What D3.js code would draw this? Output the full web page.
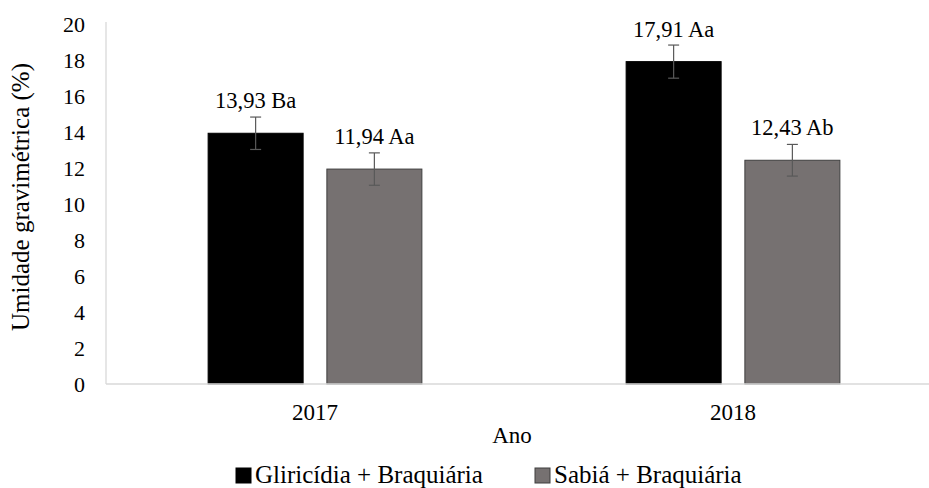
<!DOCTYPE html>
<html>
<head>
<meta charset="utf-8">
<script src="https://cdn.jsdelivr.net/npm/d3@7"></script>
<style>
  html, body { margin: 0; padding: 0; background: #fff; }
  svg { display: block; }
</style>
</head>
<body>
<svg id="chart" width="929" height="488"></svg>
<script>
// Anos avaliados e sistemas consorciados
const years = ["2017", "2018"];
const series = ["Gliricídia + Braquiária", "Sabiá + Braquiária"];
// Umidade gravimétrica média (%) por sistema, na ordem dos anos
const gliricidia = [13.93, 17.91];
const sabia = [11.94, 12.43];
// Erro (desvio) de cada média
const gliricidiaErr = [0.90, 0.92];
const sabiaErr = [0.90, 0.88];
// Letras de significância
const gliricidiaLetters = ["Ba", "Aa"];
const sabiaLetters = ["Aa", "Ab"];
const yTicks = [0, 2, 4, 6, 8, 10, 12, 14, 16, 18, 20];
const seriesColors = ["#000000", "#767171"];
const seriesStroke = ["#000000", "#3f3f3f"];

const FONT = '"Liberation Serif"';

const values = [gliricidia, sabia];
const errors = [gliricidiaErr, sabiaErr];
const letters = [gliricidiaLetters, sabiaLetters];

const rows = [];
years.forEach((yr, i) => {
  series.forEach((s, j) => {
    rows.push({ year: yr, series: s, si: j, value: values[j][i], err: errors[j][i], letter: letters[j][i] });
  });
});

const svg = d3.select("#chart");
const plotLeft = 106, plotRight = 942, plotTop = 24, plotBottom = 384;

const y = d3.scaleLinear().domain([0, 20]).range([plotBottom, plotTop]);
const x0 = d3.scaleBand().domain(years).range([plotLeft, plotRight]).padding(0);
const x1 = d3.scaleBand().domain(series).range([0, x0.bandwidth()]).paddingInner(0.2).paddingOuter(0.86);

const fmt = v => d3.format(".2f")(v).replace(".", ",");

// Eixo Y (linha clara, sem marcas)
svg.append("line")
  .attr("x1", plotLeft).attr("x2", plotLeft)
  .attr("y1", y(20) - 2).attr("y2", plotBottom)
  .attr("stroke", "#d9d9d9").attr("stroke-width", 1.3);

const yAxis = d3.axisLeft(y).tickValues(yTicks).tickSize(0).tickPadding(0).tickFormat(d3.format("d"));
const gy = svg.append("g").attr("transform", `translate(85,0)`).call(yAxis);
gy.select(".domain").remove();
gy.selectAll("text")
  .style("font-family", FONT)
  .style("font-size", "22px").attr("fill", "#000").attr("dy", "0.33em");

// Barras
svg.append("g").selectAll("rect").data(rows).join("rect")
  .attr("x", d => x0(d.year) + x1(d.series))
  .attr("y", d => y(d.value))
  .attr("width", x1.bandwidth())
  .attr("height", d => y(0) - y(d.value))
  .attr("fill", d => seriesColors[d.si])
  .attr("stroke", d => seriesStroke[d.si])
  .attr("stroke-width", 1);

// Eixo X
svg.append("line")
  .attr("x1", plotLeft).attr("x2", 929)
  .attr("y1", plotBottom).attr("y2", plotBottom)
  .attr("stroke", "#d9d9d9").attr("stroke-width", 1.3);

const xAxis = d3.axisBottom(x0).tickSize(0).tickPadding(0);
const gx = svg.append("g").attr("transform", `translate(0,${plotBottom})`).call(xAxis);
gx.select(".domain").remove();
gx.selectAll("text")
  .style("font-family", FONT)
  .style("font-size", "23px").attr("fill", "#000").attr("y", 36).attr("dy", 0);

// Barras de erro
const eb = svg.append("g").selectAll("g").data(rows).join("g")
  .attr("stroke", "#595959").attr("stroke-width", 1.2);
const cx = d => x0(d.year) + x1(d.series) + x1.bandwidth() / 2;
eb.append("line")
  .attr("x1", cx).attr("x2", cx)
  .attr("y1", d => y(d.value + d.err)).attr("y2", d => y(d.value - d.err));
eb.append("line")
  .attr("x1", d => cx(d) - 5.5).attr("x2", d => cx(d) + 5.5)
  .attr("y1", d => y(d.value + d.err)).attr("y2", d => y(d.value + d.err));
eb.append("line")
  .attr("x1", d => cx(d) - 5.5).attr("x2", d => cx(d) + 5.5)
  .attr("y1", d => y(d.value - d.err)).attr("y2", d => y(d.value - d.err));

// Rótulos de valor
svg.append("g").selectAll("text").data(rows).join("text")
  .attr("x", cx)
  .attr("y", d => y(d.value) - 25)
  .attr("text-anchor", "middle")
  .style("font-family", FONT)
  .style("font-size", "22.5px")
  .attr("fill", "#000")
  .text(d => `${fmt(d.value)} ${d.letter}`);

// Títulos dos eixos
svg.append("text")
  .attr("x", 512).attr("y", 443)
  .attr("text-anchor", "middle")
  .style("font-family", FONT)
  .style("font-size", "23px")
  .text("Ano");

svg.append("text")
  .attr("transform", "translate(29,197) rotate(-90)")
  .attr("text-anchor", "middle")
  .style("font-family", FONT)
  .style("font-size", "25px")
  .text("Umidade gravimétrica (%)");

// Legenda
const legendX = [236, 535];
const lg = svg.append("g").selectAll("g").data(series).join("g")
  .attr("transform", (d, i) => `translate(${legendX[i]},468)`);
lg.append("rect")
  .attr("width", 15).attr("height", 15)
  .attr("fill", (d, i) => seriesColors[i])
  .attr("stroke", (d, i) => seriesStroke[i]).attr("stroke-width", 1);
lg.append("text")
  .attr("x", 19).attr("y", 15)
  .style("font-family", FONT)
  .style("font-size", "25px")
  .text(d => d);
</script>
</body>
</html>
